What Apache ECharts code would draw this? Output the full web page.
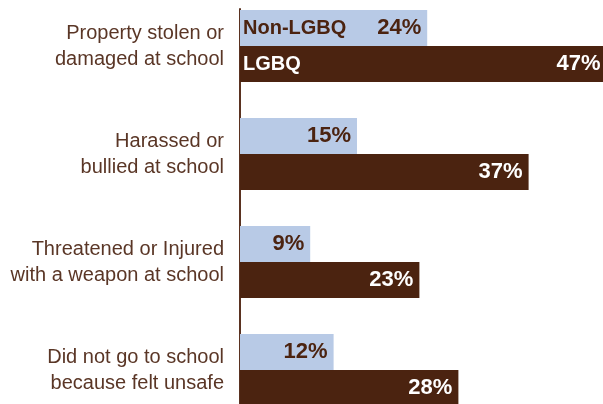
<!DOCTYPE html>
<html><head><meta charset="utf-8">
<script src="https://cdn.jsdelivr.net/npm/echarts@6/dist/echarts.min.js"></script>
<style>html,body{margin:0;padding:0;background:#fff}#c{width:603px;height:404px}</style>
</head><body><div id="c"></div>
<script>
var categories = ['Property stolen or\ndamaged at school', 'Harassed or\nbullied at school', 'Threatened or Injured\nwith a weapon at school', 'Did not go to school\nbecause felt unsafe'];
var seriesNames = ['Non-LGBQ', 'LGBQ'];
var nonLGBQ = [24, 15, 9, 12];
var lgbq = [47, 37, 23, 28];

var BLUE = '#b8cae6', BROWN = '#4b2310', TEXT = '#5a3626';
var FONT = '"Liberation Sans", Arial, Helvetica, sans-serif';
function firstOnly(arr){ return arr.map(function(v,i){ return i === 0 ? v : '-'; }); }

var chart = echarts.init(document.getElementById('c'));
chart.setOption({
  animation: false,
  grid: [
    { left: 240, top: -8, width: 390, height: 432, containLabel: false, outerBoundsMode: 'none' },
    { left: 240, top: 9, width: 390, height: 415, containLabel: false, outerBoundsMode: 'none' }
  ],
  xAxis: [
    { type: 'value', min: 0, max: 50, show: false, gridIndex: 0 },
    { type: 'value', min: 0, max: 50, show: false, gridIndex: 1 }
  ],
  yAxis: [{
    type: 'category', data: categories, inverse: true, gridIndex: 0,
    axisLine: { show: false },
    axisTick: { show: false },
    axisLabel: { color: TEXT, fontSize: 20, lineHeight: 26, fontFamily: FONT, margin: 16, align: 'right' }
  }, {
    type: 'category', data: categories, inverse: true, show: false, gridIndex: 0
  }, {
    type: 'category', data: categories, inverse: true, gridIndex: 1, z: 1,
    axisLine: { show: true, lineStyle: { color: '#5a3220', width: 2 } },
    axisTick: { show: false }, axisLabel: { show: false }
  }],
  series: [{
    name: seriesNames[0], type: 'bar', data: nonLGBQ, barWidth: 36, barGap: 0, z: 3,
    itemStyle: { color: BLUE },
    label: { show: true, position: 'insideRight', distance: 6, formatter: '{c}%', color: BROWN, fontSize: 22, fontWeight: 'bold', fontFamily: FONT }
  }, {
    name: seriesNames[1], type: 'bar', data: lgbq, barWidth: 36, barGap: 0, z: 3,
    itemStyle: { color: BROWN },
    label: { show: true, position: 'insideRight', distance: 6, formatter: '{c}%', color: '#fff', fontSize: 22, fontWeight: 'bold', fontFamily: FONT }
  }, {
    name: seriesNames[0] + ' name', type: 'bar', yAxisIndex: 1, data: firstOnly(nonLGBQ), barWidth: 36, barGap: 0, z: 4,
    itemStyle: { color: 'rgba(0,0,0,0)' }, silent: true,
    label: { show: true, position: 'insideLeft', distance: 3, formatter: seriesNames[0], color: BROWN, fontSize: 20, fontWeight: 'bold', fontFamily: FONT }
  }, {
    name: seriesNames[1] + ' name', type: 'bar', yAxisIndex: 1, data: firstOnly(lgbq), barWidth: 36, barGap: 0, z: 4,
    itemStyle: { color: 'rgba(0,0,0,0)' }, silent: true,
    label: { show: true, position: 'insideLeft', distance: 3, formatter: seriesNames[1], color: '#fff', fontSize: 20, fontWeight: 'bold', fontFamily: FONT }
  }]
});
</script></body></html>
